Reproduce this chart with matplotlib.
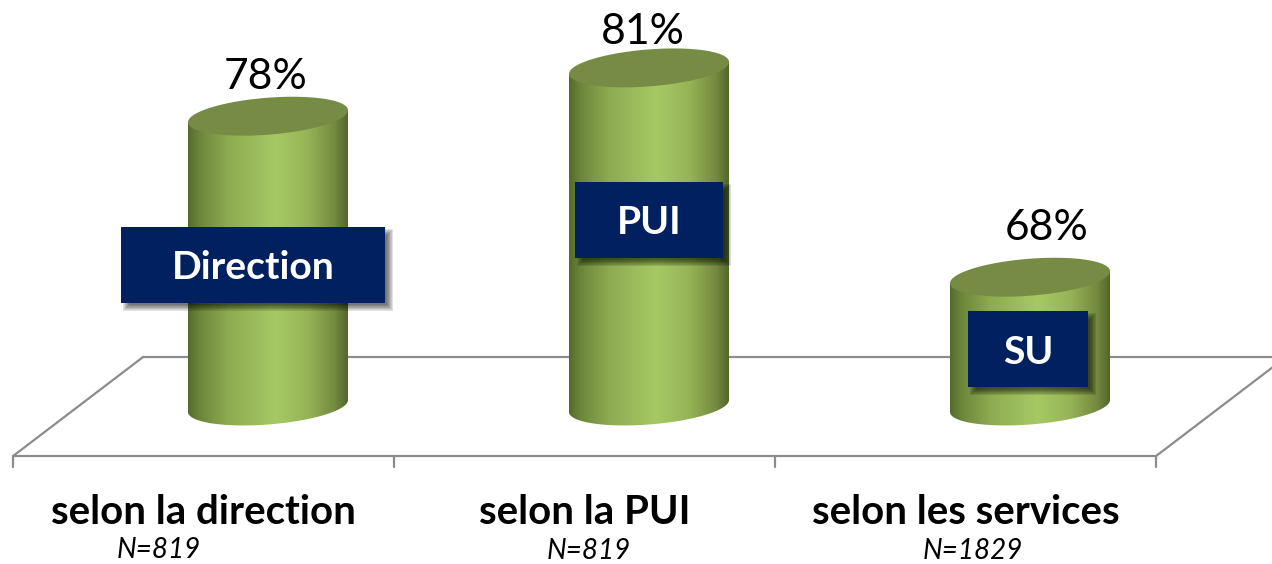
import numpy as np
import matplotlib
matplotlib.use('Agg')
import matplotlib.pyplot as plt
from matplotlib.colors import LinearSegmentedColormap
from matplotlib.patches import Polygon, Rectangle

categories = ['selon la direction', 'selon la PUI', 'selon les services']
values = [78, 81, 68]
sample_sizes = ['N=819', 'N=819', 'N=1829']
box_labels = ['Direction', 'PUI', 'SU']

plt.rcParams['font.family'] = ['Lato', 'DejaVu Sans']

# one category is 381 px wide, one percent is 16.1 px high
PX_X = 1 / 381.0
PX_Y = 1 / 16.1
BASE = 60

# pixel offsets from each bar centre / base point
value_dx, value_dy = [-2, -6, 17], [329, 374, 178]
box_dx, box_dy = [-15, 0, -2], [141, 186, 57]
box_w, box_h = [264, 148, 120], [76, 76, 76]
n_dx, n_dy = [-109, -60, -57], [-144, -145, -145]

fig = plt.figure(figsize=(12.72, 5.64), dpi=100)
ax = fig.add_axes([0, 0, 1, 1])

cmap = LinearSegmentedColormap.from_list('cyl', [
    (0.0, '#556b2d'), (0.07, '#6c863a'), (0.25, '#8dab51'), (0.55, '#a6c964'),
    (0.75, '#96b457'), (0.92, '#748a3f'), (1.0, '#52672b')])


def ellipse(cx, y, t):
    a = 80 * PX_X
    s = 6 * PX_Y
    b = 18.5 * PX_Y
    return cx + a * np.cos(t), y + s * np.cos(t) + b * np.sin(t)


# floor of the 3D chart
x_front = np.arange(len(categories) + 1) - 0.669
y_front = BASE - 50 * PX_Y
y_back = BASE + 49 * PX_Y
depth = 130 * PX_X
line = dict(color='#8c8c8c', lw=1.6, zorder=1, solid_capstyle='round')
ax.plot([x_front[0] + depth, x_front[-1] + depth], [y_back, y_back], **line)
ax.plot([x_front[0], x_front[-1]], [y_front, y_front], **line)
ax.plot([x_front[0], x_front[0] + depth], [y_front, y_back], **line)
ax.plot([x_front[-1], x_front[-1] + depth], [y_front, y_back], **line)
for x in x_front:
    ax.plot([x, x], [y_front, y_front - 11 * PX_Y], **line)

for i, v in enumerate(values):
    # cylinder body
    t = np.linspace(np.pi, 2 * np.pi, 80)
    xb, yb = ellipse(i, BASE, t)
    xs = np.concatenate([xb, [xb[-1], xb[0]]])
    ys = np.concatenate([yb, [ellipse(i, v, 0.0)[1], ellipse(i, v, np.pi)[1]]])
    body = Polygon(np.column_stack([xs, ys]), closed=True, fc='none', ec='none')
    ax.add_patch(body)
    grad = np.linspace(0, 1, 256).reshape(1, -1)
    im = ax.imshow(grad, cmap=cmap, aspect='auto', zorder=2, interpolation='bilinear',
                   extent=[i - 80 * PX_X, i + 80 * PX_X, BASE - 30 * PX_Y, v + 10 * PX_Y])
    im.set_clip_path(body)

    # top
    t = np.linspace(0, 2 * np.pi, 160)
    xt, yt = ellipse(i, v, t)
    ax.fill(xt, yt, color='#768b43', lw=0, zorder=3)

    ax.text(i + value_dx[i] * PX_X, BASE + value_dy[i] * PX_Y, '%d%%' % v,
            fontsize=30.7, color='black', ha='center', va='center', zorder=6)

    # blue label with soft shadow
    bx = i + box_dx[i] * PX_X
    by = BASE + box_dy[i] * PX_Y
    w = box_w[i] * PX_X
    h = box_h[i] * PX_Y
    for k in range(12):
        grow = 3.3 - 0.6 * k
        ax.add_patch(Rectangle((bx - w / 2 + (5 - grow) * PX_X, by - h / 2 - (5 + grow) * PX_Y),
                               w + 2 * grow * PX_X, h + 2 * grow * PX_Y,
                               fc='black', ec='none', alpha=0.06, zorder=4))
    ax.add_patch(Rectangle((bx - w / 2, by - h / 2), w, h, fc='#002060', ec='none', zorder=5))
    ax.text(bx, by - 3 * PX_Y, box_labels[i], fontsize=28.2, fontweight='bold', color='white',
            ha='center', va='center', zorder=6)

    # category label under the floor
    xc = (x_front[i] + x_front[i + 1]) / 2
    ax.text(xc, BASE - 106 * PX_Y, categories[i], fontsize=28.9, fontweight='bold',
            color='black', ha='center', va='center')
    ax.text(i + n_dx[i] * PX_X, BASE + n_dy[i] * PX_Y, sample_sizes[i], fontsize=20,
            style='italic', color='black', ha='center', va='center')

ax.set_xlim(-268 * PX_X, (1272 - 268) * PX_X)
ax.set_ylim(BASE - (564 - 406) * PX_Y, BASE + 406 * PX_Y)
ax.axis('off')

fig.savefig('out.png', dpi=100)
